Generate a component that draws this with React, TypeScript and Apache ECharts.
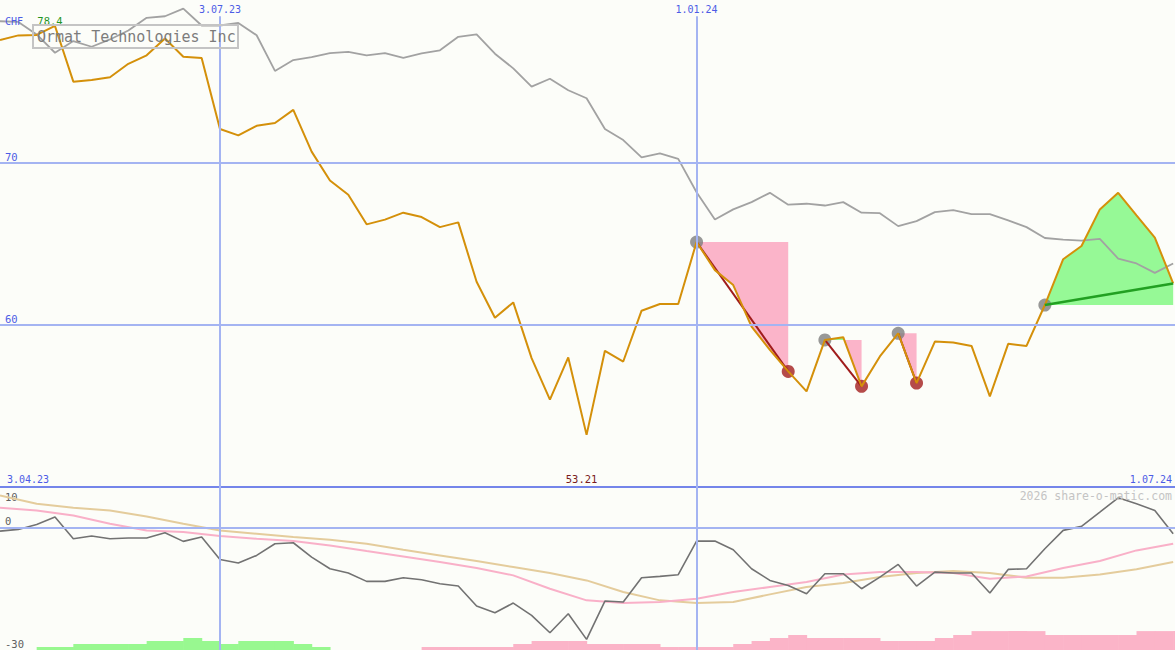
import React, { useEffect, useRef } from 'react';
import * as echarts from 'echarts';

const FONT = '"DejaVu Sans Mono", "Liberation Mono", monospace';

const title = 'Ormat Technologies Inc';
const currency = 'CHF';
const firstDateLabel = '3.04.23';
const lastDateLabel = '1.07.24';
const dateTickIdx = [12, 38];
const dateTickLabels = ['3.07.23', '1.01.24'];
const priceTicks = [60, 70];
const oscTicks = [10, 0, -30];
const watermark = '2026 share-o-matic.com';

// weekly closes (index 0 .. 64)
const closeCHF = [
  77.53, 77.82, 77.85, 78.4, 74.97, 75.07, 75.24, 76.07, 76.59, 77.63,
  76.5, 76.42, 72.05, 71.66, 72.25, 72.42, 73.23, 70.66, 68.88, 68.0,
  66.18, 66.47, 66.9, 66.63, 66.01, 66.3, 62.64, 60.43, 61.37, 57.94,
  55.38, 57.98, 53.21, 58.39, 57.73, 60.86, 61.27, 61.27, 65.09, 63.36,
  62.44, 59.88, 58.45, 57.12, 55.89, 59.06, 59.23, 56.2, 58.04, 59.47,
  56.4, 58.96, 58.9, 58.69, 55.58, 58.82, 58.69, 61.21, 64.03, 64.85,
  67.1, 68.12, 66.73, 65.36, 62.54,
];

// comparison index (grey)
const benchmark = [
  78.69, 78.65, 77.88, 76.75, 77.47, 77.12, 77.57, 78.12, 78.9, 79.0,
  79.47, 78.43, 78.43, 78.59, 77.83, 75.63, 76.3, 76.48, 76.73, 76.81,
  76.59, 76.73, 76.44, 76.71, 76.9, 77.73, 77.88, 76.69, 75.79, 74.66,
  75.15, 74.44, 73.95, 72.05, 71.37, 70.31, 70.55, 70.21, 68.16, 66.48,
  67.1, 67.55, 68.12, 67.39, 67.45, 67.34, 67.55, 66.9, 66.87, 66.07,
  66.38, 66.93, 67.06, 66.81, 66.81, 66.42, 66.01, 65.34, 65.24, 65.18,
  65.28, 64.07, 63.77, 63.19, 63.77,
];

// oscillator (dark grey)
const oscLine = [
  -0.82, -0.41, 0.82, 2.62, -2.7, -2.04, -2.7, -2.53, -2.53, -1.23,
  -3.35, -2.29, -7.77, -8.67, -6.79, -3.92, -3.68, -7.2, -10.06, -11.12,
  -13.16, -13.16, -12.26, -12.76, -13.74, -14.31, -19.2, -20.85, -18.48, -21.5,
  -25.76, -21.1, -27.39, -17.99, -18.23, -12.26, -11.94, -11.53, -3.27, -3.27,
  -5.4, -10.06, -12.92, -14.15, -16.19, -11.28, -11.28, -14.96, -12.1, -9.0,
  -14.31, -10.88, -11.12, -11.12, -16.03, -10.22, -10.06, -5.15, -0.65, 0.33,
  3.84, 7.36, 5.89, 4.25, -1.47,
];

// averages, read every second week (index 0, 2, 4 ... 64)
const fastAvgEven = [
  4.9, 4.25, 3.03, 0.98, -0.65, -1.06, -2.04, -2.7, -3.27, -4.33,
  -5.72, -7.03, -8.42, -9.89, -11.69, -14.96, -17.82, -18.48, -18.23, -17.42,
  -15.78, -14.55, -13.33, -11.45, -10.87, -10.87, -11.12, -12.51, -11.94, -9.89,
  -8.18, -5.56, -3.92,
];
const slowAvgEven = [
  7.93, 5.89, 4.9, 4.25, 2.78, 0.98, -0.65, -1.47, -2.29, -2.94,
  -3.92, -5.4, -6.79, -8.18, -9.65, -11.12, -12.92, -15.78, -17.82, -18.48,
  -18.23, -16.35, -14.55, -13.57, -12.1, -11.12, -10.63, -11.12, -12.26, -12.26,
  -11.45, -10.2, -8.42,
];

// strength histogram, from index 2 (positive = green, negative = pink)
const histStart = 2;
const histLevels = [
  1, 1, 2, 2, 2, 2, 3, 3, 4, 3, 2, 3, 3, 3, 2, 1,
  0, 0, 0, 0, 0,
  -1, -1, -1, -1, -1, -2, -3, -3, -3, -2, -2, -2, -2, -1, -1, -1, -1,
  -2, -3, -4, -5, -4, -4, -4, -4, -3, -3, -3, -4, -5,
  -6.3, -6.3, -6.3, -6.3, -5, -5, -5, -5, -5, -6.3, -6.3, -6.3,
];

const tradeEntries = [38, 45, 49, 57];
const tradeExits = [43, 47, 50, 64];
const lastTradeOpen = true;

const BLUE_TXT = '#4c5ce6';
const GRID_BLUE = '#a4b4f2';
const PINK_FILL = '#fbb4c9';
const GREEN_FILL = '#96f996';

export default function App() {
  const ref = useRef<HTMLDivElement>(null);

  useEffect(() => {
    if (!ref.current) return;
    const chart = echarts.init(ref.current, undefined, { renderer: 'svg' });

    const XMAX = 64.1;
    const maxV = Math.max(...closeCHF);
    const minV = Math.min(...closeCHF);
    const maxI = closeCHF.indexOf(maxV);
    const minI = closeCHF.indexOf(minV);

    const closedTrades = tradeEntries
      .map((s, k) => [s, tradeExits[k]])
      .filter((_, k) => !(lastTradeOpen && k === tradeEntries.length - 1));
    const openTrades = lastTradeOpen
      ? [[tradeEntries[tradeEntries.length - 1], tradeExits[tradeExits.length - 1]]]
      : [];

    const verticalLines = (withLabel: boolean, top: number, bottom: number) =>
      dateTickIdx.map((idx, k) => [
        {
          name: dateTickLabels[k],
          coord: [idx, top],
          label: withLabel
            ? {
                show: true,
                position: 'start',
                formatter: '{b}',
                color: BLUE_TXT,
                fontSize: 10,
                fontFamily: FONT,
                distance: 2,
              }
            : { show: false },
        },
        { coord: [idx, bottom] },
      ]);

    const option: any = {
      animation: false,
      backgroundColor: '#fcfdf9',
      grid: [
        { left: 0, right: 0, top: 0, height: 487 },
        { left: 0, right: 0, top: 487, height: 163 },
      ],
      xAxis: [
        { type: 'value', gridIndex: 0, min: 0, max: XMAX, show: false },
        { type: 'value', gridIndex: 1, min: 0, max: XMAX, show: false },
      ],
      yAxis: [
        {
          type: 'value',
          gridIndex: 0,
          min: 50,
          max: 80,
          interval: 10,
          axisLine: { show: false },
          axisTick: { show: false },
          splitLine: { show: false },
          axisLabel: {
            inside: true,
            margin: 5,
            formatter: (v: number) => (priceTicks.includes(v) ? `{a|${v}}` : ''),
            rich: {
              a: { color: BLUE_TXT, fontSize: 10.5, fontFamily: FONT, padding: [0, 0, 11, 0] },
            },
          },
        },
        {
          type: 'value',
          gridIndex: 1,
          min: -30,
          max: 10,
          interval: 10,
          axisLine: { show: false },
          axisTick: { show: false },
          splitLine: { show: false },
          axisLabel: {
            inside: true,
            margin: 5,
            formatter: (v: number) =>
              v === 10 ? `{t|${v}}` : oscTicks.includes(v) ? `{b|${v}}` : '',
            rich: {
              t: { color: '#606060', fontSize: 10.5, fontFamily: FONT, padding: [19, 0, 0, 0] },
              b: { color: '#606060', fontSize: 10.5, fontFamily: FONT, padding: [0, 0, 13, 0] },
            },
          },
        },
        { type: 'value', gridIndex: 1, min: 0, max: 54.33, show: false },
      ],
      graphic: [
        {
          type: 'rect',
          shape: { x: 33, y: 25, width: 205, height: 23 },
          style: { fill: 'none', stroke: '#c4c4c4', lineWidth: 2 },
          z: 100,
        },
        {
          type: 'text',
          x: 37,
          y: 37,
          style: {
            text: title,
            font: `15px ${FONT}`,
            fill: '#7c7c7c',
            verticalAlign: 'middle',
          },
          z: 100,
        },
        {
          type: 'text',
          x: 5,
          y: 21,
          style: { text: currency, font: `10px ${FONT}`, fill: BLUE_TXT, verticalAlign: 'middle' },
          z: 100,
        },
        {
          type: 'text',
          x: 7,
          y: 479,
          style: { text: firstDateLabel, font: `10px ${FONT}`, fill: BLUE_TXT, verticalAlign: 'middle' },
          z: 100,
        },
        {
          type: 'text',
          x: 1172,
          y: 479,
          style: {
            text: lastDateLabel,
            font: `10px ${FONT}`,
            fill: BLUE_TXT,
            verticalAlign: 'middle',
            align: 'right',
          },
          z: 100,
        },
        {
          type: 'text',
          x: 1172,
          y: 496,
          style: {
            text: watermark,
            font: `11.5px ${FONT}`,
            fill: '#c4c4c4',
            verticalAlign: 'middle',
            align: 'right',
          },
          z: 100,
        },
      ],
      series: [
        // entry dots (under the fills) + main panel grid lines
        {
          type: 'scatter',
          xAxisIndex: 0,
          yAxisIndex: 0,
          data: tradeEntries.map((i) => [i, closeCHF[i]]),
          symbolSize: 13,
          itemStyle: { color: '#7e7e7e' },
          markLine: {
            silent: true,
            symbol: ['none', 'none'],
            label: { show: false },
            data: [
              ...priceTicks.map((v) => ({
                yAxis: v,
                lineStyle: { color: GRID_BLUE, width: 2, type: 'solid' },
              })),
              { yAxis: 50, lineStyle: { color: '#7485ea', width: 2, type: 'solid' } },
              ...verticalLines(true, 79.0, 50).map((pair) => [
                { ...pair[0], lineStyle: { color: GRID_BLUE, width: 2, type: 'solid' } },
                pair[1],
              ]),
            ],
          },
        },
        // gain / loss fills
        {
          type: 'custom',
          xAxisIndex: 0,
          yAxisIndex: 0,
          clip: true,
          data: tradeEntries.map((s, k) => [s, tradeExits[k], closeCHF[s]]),
          encode: { x: [0, 1], y: 2 },
          renderItem: (params: any, api: any) => {
            const s = api.value(0);
            const e = api.value(1);
            const base = api.value(2);
            const pieces: { pts: number[][]; sg: number }[] = [];
            let pts: number[][] = [[s, base]];
            let sg = 0;
            for (let i = s; i <= e; i++) {
              const d = closeCHF[i] - base;
              if (i > s) {
                const dp = closeCHF[i - 1] - base;
                if (dp * d < 0) {
                  const xc = i - 1 + dp / (dp - d);
                  pts.push([xc, base]);
                  pieces.push({ pts, sg });
                  pts = [[xc, base]];
                  sg = 0;
                }
              }
              pts.push([i, closeCHF[i]]);
              if (sg === 0 && d !== 0) sg = d > 0 ? 1 : -1;
            }
            pts.push([e, base]);
            pieces.push({ pts, sg });
            return {
              type: 'group',
              children: pieces.map((p) => ({
                type: 'polygon',
                shape: { points: p.pts.map((q) => api.coord(q)) },
                style: { fill: p.sg > 0 ? GREEN_FILL : PINK_FILL },
              })),
            };
          },
        },
        // benchmark
        {
          type: 'line',
          xAxisIndex: 0,
          yAxisIndex: 0,
          data: benchmark.map((v, i) => [i, v]),
          symbol: 'none',
          lineStyle: { color: '#a2a2a2', width: 1.8 },
        },
        // closed trade lines
        ...closedTrades.map(([s, e]) => ({
          type: 'line',
          xAxisIndex: 0,
          yAxisIndex: 0,
          data: [
            [s, closeCHF[s]],
            [e, closeCHF[e]],
          ],
          symbol: 'none',
          lineStyle: { color: '#a01c1c', width: 2 },
        })),
        // price
        {
          type: 'line',
          xAxisIndex: 0,
          yAxisIndex: 0,
          data: closeCHF.map((v, i) => [i, v]),
          symbol: 'none',
          lineStyle: { color: '#d4900a', width: 2 },
          markPoint: {
            symbol: 'rect',
            symbolSize: 1,
            itemStyle: { color: 'rgba(0,0,0,0)' },
            data: [
              {
                coord: [maxI, 78.7],
                value: maxV,
                label: {
                  show: true,
                  position: 'inside',
                  formatter: String(maxV),
                  color: '#1f951f',
                  fontSize: 10.5,
                  fontFamily: FONT,
                  offset: [-5, 0],
                },
              },
              {
                coord: [minI, 50.5],
                value: minV,
                label: {
                  show: true,
                  position: 'inside',
                  formatter: String(minV),
                  color: '#7a1c1c',
                  fontSize: 10.5,
                  fontFamily: FONT,
                  offset: [-5, 0],
                },
              },
            ],
          },
        },
        // open trade line
        ...openTrades.map(([s, e]) => ({
          type: 'line',
          xAxisIndex: 0,
          yAxisIndex: 0,
          data: [
            [s, closeCHF[s]],
            [e, closeCHF[e]],
          ],
          symbol: 'none',
          lineStyle: { color: '#22a022', width: 2.5 },
        })),
        // exit dots
        {
          type: 'scatter',
          xAxisIndex: 0,
          yAxisIndex: 0,
          data: closedTrades.map(([, e]) => [e, closeCHF[e]]),
          symbolSize: 13,
          itemStyle: { color: '#a21e1e' },
        },
        // lower panel: slow average + grid lines
        {
          type: 'line',
          xAxisIndex: 1,
          yAxisIndex: 1,
          data: slowAvgEven.map((v, k) => [k * 2, v]),
          symbol: 'none',
          lineStyle: { color: '#e4cc9c', width: 2 },
          markLine: {
            silent: true,
            symbol: ['none', 'none'],
            label: { show: false },
            data: [
              { yAxis: 0, lineStyle: { color: GRID_BLUE, width: 2, type: 'solid' } },
              ...verticalLines(false, 10, -30).map((pair) => [
                { ...pair[0], lineStyle: { color: GRID_BLUE, width: 2, type: 'solid' } },
                pair[1],
              ]),
            ],
          },
        },
        // histogram
        {
          type: 'custom',
          xAxisIndex: 1,
          yAxisIndex: 2,
          clip: true,
          data: histLevels
            .map((v, k) => [histStart + k, v])
            .filter((d) => d[1] !== 0),
          encode: { x: 0, y: 1 },
          renderItem: (params: any, api: any) => {
            const i = api.value(0);
            const v = api.value(1);
            const p0 = api.coord([i, 0]);
            const p1 = api.coord([i + 1, Math.abs(v)]);
            return {
              type: 'rect',
              shape: { x: p0[0], y: p1[1], width: p1[0] - p0[0] + 0.6, height: p0[1] - p1[1] },
              style: { fill: v > 0 ? '#98f890' : '#fbb4c8' },
            };
          },
        },
        // fast average
        {
          type: 'line',
          xAxisIndex: 1,
          yAxisIndex: 1,
          data: fastAvgEven.map((v, k) => [k * 2, v]),
          symbol: 'none',
          lineStyle: { color: '#f9b0c8', width: 2 },
        },
        // oscillator
        {
          type: 'line',
          xAxisIndex: 1,
          yAxisIndex: 1,
          data: oscLine.map((v, i) => [i, v]),
          symbol: 'none',
          lineStyle: { color: '#727272', width: 1.6 },
        },
      ],
    };

    chart.setOption(option);
    return () => chart.dispose();
  }, []);

  return (
    <div
      ref={ref}
      style={{ position: 'fixed', left: 0, top: 0, width: 1175, height: 650 }}
    />
  );
}
